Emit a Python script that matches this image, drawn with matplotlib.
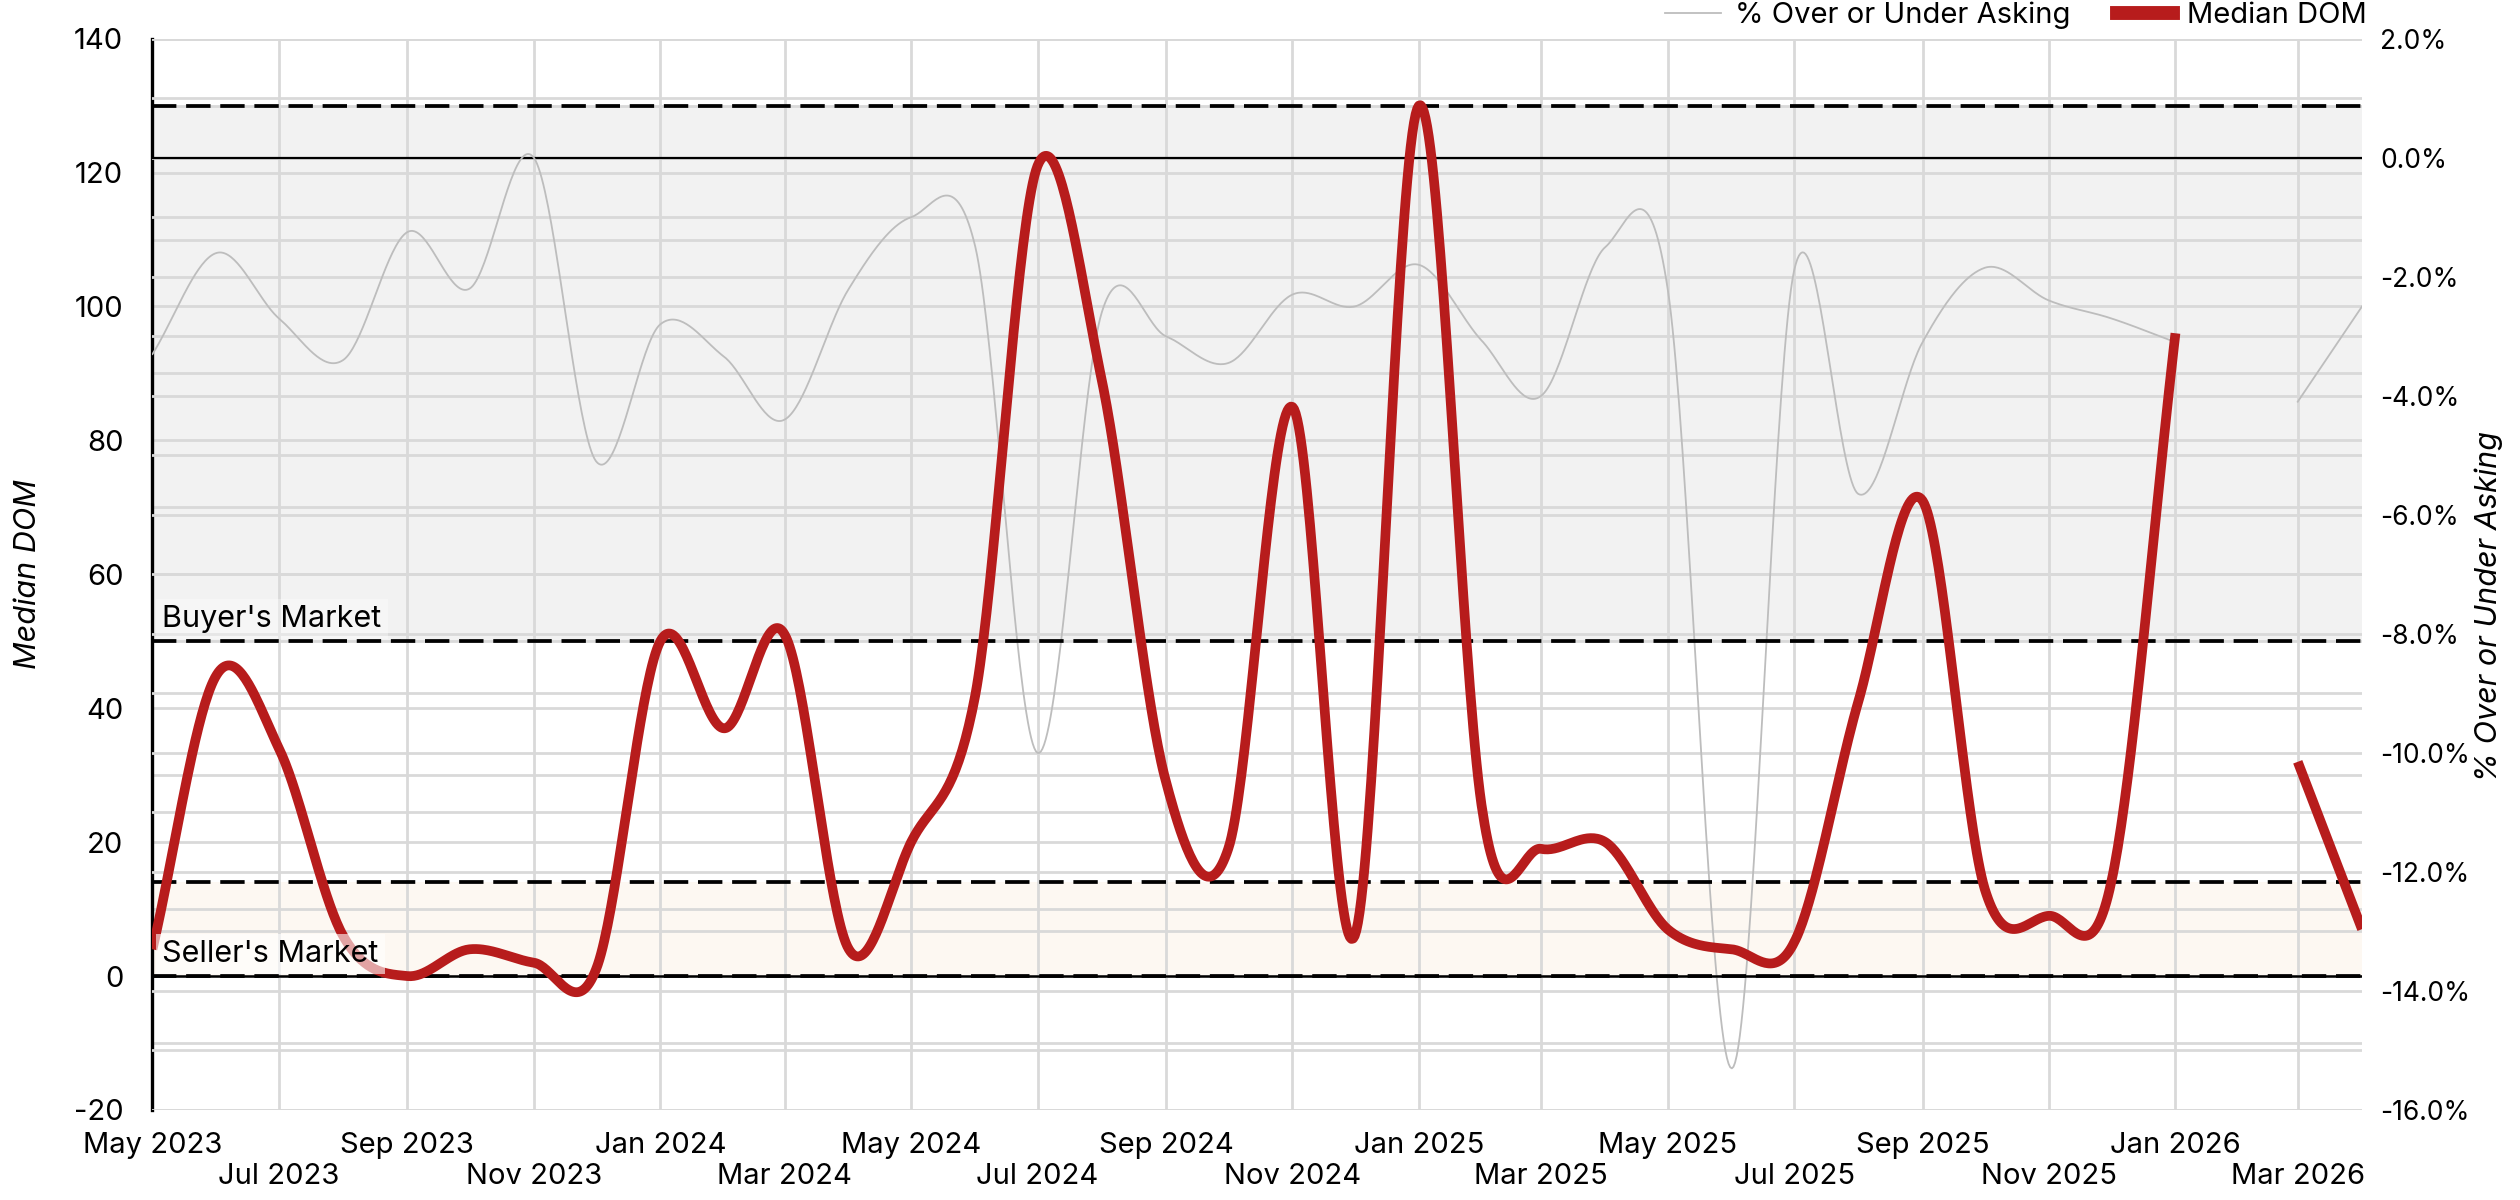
import numpy as np
import pandas as pd
import matplotlib
matplotlib.use("Agg")
import matplotlib.pyplot as plt
import matplotlib.dates as mdates
import matplotlib.transforms as mtransforms
from matplotlib.lines import Line2D
from matplotlib.ticker import MultipleLocator, FuncFormatter, FixedLocator

plt.rcParams["font.family"] = ["Inter", "DejaVu Sans"]
plt.rcParams["axes.unicode_minus"] = False

# ---------------- data ----------------
months = pd.date_range("2023-05-01", "2026-04-01", freq="MS")
median_dom = [4, 45, 34, 6, 0, 4, 2, 1, 50, 37, 51, 4, 20, 42, 121, 89, 29, 19,
              85, 6, 130, 24, 19, 20, 7, 4, 5, 41, 71, 13, 9, 14, 96, None, 32, 7]
pct_over_under = [-3.3, -1.6, -2.7, -3.4, -1.25, -2.2, 0.0, -5.1, -2.8, -3.35,
                  -4.4, -2.2, -1.0, -1.5, -10.0, -2.6, -3.0, -3.45, -2.3, -2.5,
                  -1.8, -3.1, -4.0, -1.5, -2.2, -15.3, -1.9, -5.65, -3.1, -1.85,
                  -2.4, -2.7, -3.1, None, -4.1, -2.5]
tick_months = months[::2]
tick_labels = [d.strftime("%b %Y") for d in tick_months]
buyers_band = (50, 130)
sellers_band = (0, 14)
dashed_levels = [130, 50, 14, 0]

RED = "#B71C1C"
GRAY_LINE = "#BDBDBD"
GRID = "#D9D9D9"
FS = 21


def smooth_segments(dates, values, n=40):
    """Split at missing values and draw a cubic Hermite (Catmull-Rom) curve."""
    xnum = mdates.date2num(pd.to_datetime(dates).to_pydatetime())
    segs, cur = [], []
    for x, v in zip(xnum, values):
        if v is None:
            if cur:
                segs.append(cur)
            cur = []
        else:
            cur.append((x, v))
    if cur:
        segs.append(cur)
    out = []
    for seg in segs:
        xs = np.array([s[0] for s in seg], float)
        ys = np.array([s[1] for s in seg], float)
        k = len(ys)
        if k < 2:
            out.append((xs, ys))
            continue
        m = np.zeros(k)
        m[0] = ys[1] - ys[0]
        m[-1] = ys[-1] - ys[-2]
        for i in range(1, k - 1):
            m[i] = (ys[i + 1] - ys[i - 1]) / 2.0
        px, py = [], []
        t = np.linspace(0, 1, n)
        h00 = 2 * t**3 - 3 * t**2 + 1
        h10 = t**3 - 2 * t**2 + t
        h01 = -2 * t**3 + 3 * t**2
        h11 = t**3 - t**2
        for i in range(k - 1):
            yy = h00 * ys[i] + h10 * m[i] + h01 * ys[i + 1] + h11 * m[i + 1]
            xx = xs[i] + t * (xs[i + 1] - xs[i])
            if i > 0:
                xx, yy = xx[1:], yy[1:]
            px.append(xx)
            py.append(yy)
        out.append((np.concatenate(px), np.concatenate(py)))
    return out


fig = plt.figure(figsize=(25.2, 12), dpi=100)
L, B, R, T = 0.0605, 0.075, 0.9373, 0.9678
ax1 = fig.add_axes([L, B, R - L, T - B])
ax2 = ax1.twinx()
ax3 = fig.add_axes(ax1.get_position(), sharex=ax1, sharey=ax1)

ax1.set_zorder(1)
ax2.set_zorder(2)
ax3.set_zorder(3)
ax2.patch.set_visible(False)
ax3.patch.set_visible(False)

ax1.set_xlim(months[0], months[-1])
ax1.set_ylim(-20, 140)
ax2.set_ylim(-16, 2)

# bands
ax1.axhspan(*buyers_band, color="#F2F2F2", zorder=0.1, lw=0)
ax1.axhspan(*sellers_band, color="#FDF8F2", zorder=0.1, lw=0)

# grids
ax1.set_axisbelow(True)
ax1.yaxis.set_major_locator(MultipleLocator(20))
ax1.yaxis.set_minor_locator(MultipleLocator(10))
ax1.xaxis.set_major_locator(FixedLocator(mdates.date2num(tick_months.to_pydatetime())))
ax1.grid(axis="y", which="both", color=GRID, lw=2.0)
ax1.grid(axis="x", which="major", color=GRID, lw=2.0)
ax2.yaxis.set_major_locator(MultipleLocator(2))
ax2.yaxis.set_minor_locator(MultipleLocator(1))
ax2.grid(axis="y", which="both", color=GRID, lw=2.0)
ax2.set_axisbelow(True)

# tick labels
ax1.set_xticklabels([lab if i % 2 == 0 else "\n" + lab for i, lab in enumerate(tick_labels)])
ax1.tick_params(axis="x", length=0, pad=16, labelsize=FS)
ax1.tick_params(axis="y", which="both", length=0, pad=21, labelsize=FS)
ax2.yaxis.set_major_formatter(FuncFormatter(lambda v, p: f"{v:.1f}%"))
ax2.tick_params(axis="y", which="both", length=0, pad=13, labelsize=19)

for s in ["top", "right", "bottom"]:
    ax1.spines[s].set_visible(False)
for s in ["top", "right", "bottom", "left"]:
    ax2.spines[s].set_visible(False)
ax1.spines["left"].set_color("black")
ax1.spines["left"].set_linewidth(2.4)
ax1.spines["left"].set_zorder(10)

ax1.set_ylabel("Median DOM", fontsize=22, style="italic")
ax1.yaxis.set_label_coords(-0.050, 0.5)
ax2.set_ylabel("% Over or Under Asking", fontsize=22, style="italic", rotation=90)
ax2.yaxis.set_label_coords(1.051, 0.47)

# gray line
for xs, ys in smooth_segments(months, pct_over_under):
    ax2.plot(xs, ys, color=GRAY_LINE, lw=1.3, zorder=3)
ax2.axhline(0, color="black", lw=1.6, zorder=2.5)

# reference lines and red line on front axes
ax3.set_axis_off()
for lvl in dashed_levels:
    ax3.axhline(lvl, color="black", lw=2.7, dashes=(6.5, 2.6), zorder=2)
ax3.axhline(0, color="black", lw=1.8, zorder=2)
for xs, ys in smooth_segments(months, median_dom):
    ax3.plot(xs, ys, color=RED, lw=7, solid_capstyle="butt", solid_joinstyle="round", zorder=3)

trans = mtransforms.blended_transform_factory(ax3.transAxes, ax3.transData)
ax3.text(0.0045, 51.2, "Buyer's Market", transform=trans, fontsize=22, va="bottom", ha="left",
         zorder=4, bbox=dict(boxstyle="square,pad=0.2", facecolor="white", alpha=0.35, edgecolor="none"))
ax3.text(0.0045, 1.2, "Seller's Market", transform=trans, fontsize=22, va="bottom", ha="left",
         zorder=4, bbox=dict(boxstyle="square,pad=0.2", facecolor="white", alpha=0.6, edgecolor="none"))

handles = [Line2D([0], [0], color=GRAY_LINE, lw=1.3),
           Line2D([0], [0], color=RED, lw=10)]
fig.legend(handles, ["% Over or Under Asking", "Median DOM"], loc="center right",
           bbox_to_anchor=(R + 0.002, 0.987), ncol=2, frameon=False, fontsize=FS,
           handlelength=1.9, handletextpad=0.5, columnspacing=1.6, borderaxespad=0, borderpad=0)

fig.savefig("out.png", dpi=100)
